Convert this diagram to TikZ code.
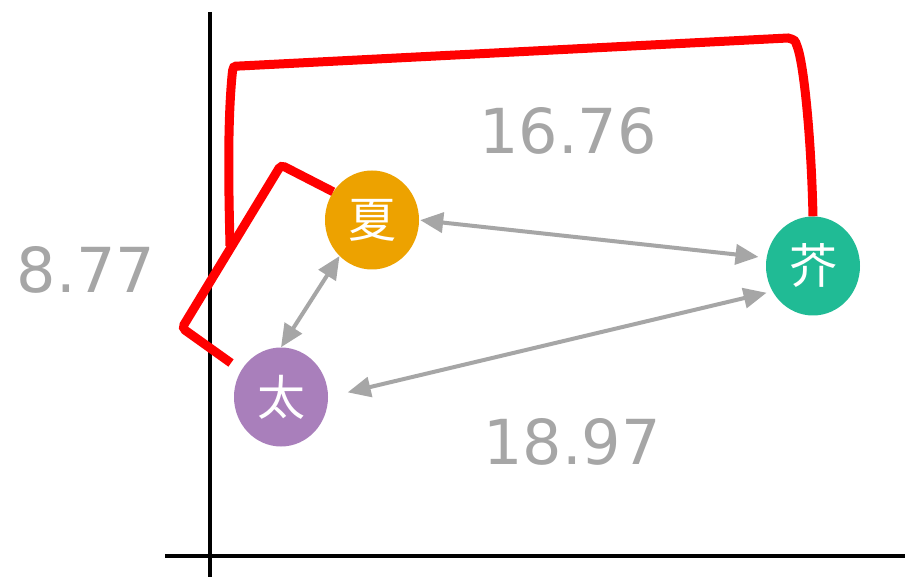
\documentclass[tikz,border=0pt]{standalone}
\usepackage{fontspec}
\setmainfont{DejaVu Sans}
\newfontfamily\cjk{Noto Sans CJK SC}
\usetikzlibrary{shapes.geometric,arrows.meta}
\definecolor{cxia}{HTML}{EDA200}
\definecolor{ctai}{HTML}{A97FBB}
\definecolor{cjie}{HTML}{20BB95}
\definecolor{cgray}{HTML}{A6A6A6}
\tikzset{
  person/.style={ellipse, minimum width=94pt, minimum height=99pt, inner sep=0pt, text=white, font=\cjk\fontsize{48}{48}\selectfont},
  garrow/.style={draw=cgray, line width=4pt, {Triangle[length=23pt,width=20pt]}-{Triangle[length=23pt,width=20pt]}},
  dist/.style={text=cgray, font=\fontsize{62}{62}\selectfont},
  redline/.style={draw=red, line width=9pt, rounded corners=4pt},
  axis/.style={draw=black, line width=4.5pt}
}
\begin{document}
\begin{tikzpicture}[x=1pt,y=-1pt]
\useasboundingbox (0,0) rectangle (905,577);
\fill[white] (0,0) rectangle (905,577);
% axes
\coordinate (ytop) at (210,12);
\coordinate (ybot) at (210,577);
\coordinate (xl) at (165,556);
\coordinate (xr) at (905,556);
\draw[axis] (ytop) -- (ybot);
\draw[axis] (xl) -- (xr);
% nodes
\node[person, fill=cxia] (xia) at (372,220) {夏};
\node[person, fill=ctai] (tai) at (281,397) {太};
\node[person, fill=cjie] (jie) at (813,266) {芥};
% red paths
\coordinate (r1) at (182,328);
\coordinate (r2) at (281,165);
\coordinate (rs) at (231,363);
\draw[redline] (rs) -- (r1) -- (r2) -- (xia.144);
\coordinate (t1) at (788,38);
\coordinate (t2) at (240,66);
\coordinate (t3) at (230,246);
\draw[draw=red, line width=9pt] (jie.north) .. controls (811,130) and (803,60) .. (797,46)
  .. controls (795,40) .. (t1) -- (t2) .. controls (233,66) .. (232,76)
  .. controls (227,130) and (229,200) .. (t3);
% arrows
\draw[garrow, shorten >=8pt, shorten <=1pt] (xia.east) -- (jie.170);
\draw[garrow] (xia.228) -- (tai.north);
\draw[garrow, shorten <=20pt, shorten >=6pt] (tai.east) -- (jie.212);
% labels
\node[dist] (d1) at (568,131) {16.76};
\node[dist] (d2) at (86,270) {8.77};
\node[dist] (d3) at (572,442) {18.97};
\end{tikzpicture}
\end{document}
